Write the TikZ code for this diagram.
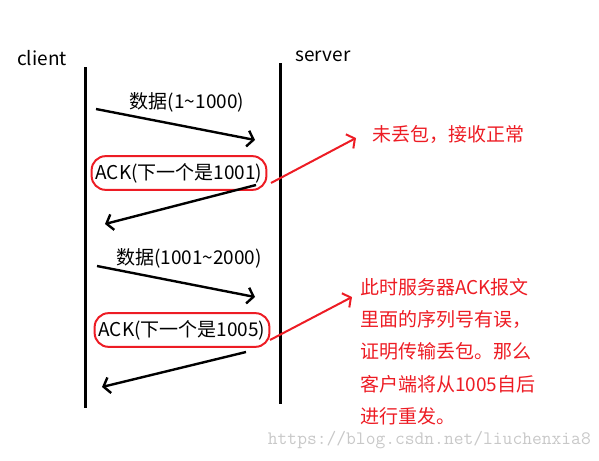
\documentclass[tikz,border=0pt]{standalone}
\usepackage{fontspec}
\setmainfont{Noto Sans CJK SC}
\usetikzlibrary{arrows.meta}
\definecolor{annred}{RGB}{237,28,36}
\definecolor{wmgray}{RGB}{200,200,200}
\tikzset{
  lifeline/.style={line width=3pt},
  msg/.style={line width=2.4pt,-{Straight Barb[length=6pt,width=16pt,line width=2.4pt]}},
  lbl/.style={inner sep=0pt,font=\fontsize{19}{22}\selectfont},
  ackbox/.style={draw=annred,line width=2pt,rounded corners=14pt,inner xsep=4pt,inner ysep=7pt,font=\fontsize{19}{22}\selectfont},
  note/.style={inner sep=0pt,text=annred,font=\fontsize{19}{32.3}\selectfont,align=left},
  notearrow/.style={draw=annred,line width=2pt,-{Straight Barb[length=6pt,width=16pt,line width=2pt]}}
}
\begin{document}
\begin{tikzpicture}[x=1pt,y=-1pt]
\useasboundingbox (0,0) rectangle (599,460);
% headers
\node[lbl] (client) at (42,58) {client};
\node[lbl] (server) at (323,56) {server};
% lifelines
\coordinate (ctop) at (85,67);
\coordinate (cbot) at (85,408);
\coordinate (stop) at (280,63);
\coordinate (sbot) at (280,404);
\draw[lifeline] (ctop) -- (cbot);
\draw[lifeline] (stop) -- (sbot);
% message 1
\coordinate (m1a) at (96,109);
\coordinate (m1b) at (255,140);
\draw[msg] (m1a) -- (m1b);
\node[lbl] (l1) at (187,102) {数据(1\char"007E 1000)};
% ack 1
\node[ackbox] (ack1) at (179,173) {ACK(下一个是1001)};
\coordinate (m2a) at (256,185);
\coordinate (m2b) at (105,224);
\draw[msg] (m2a) -- (m2b);
% note 1
\node[note,anchor=west] (n1) at (372,134) {未丢包，接收正常};
\coordinate (r1a) at (271,183);
\coordinate (r1b) at (356,138);
\draw[notearrow] (r1a) -- (r1b);
% message 3
\coordinate (m3a) at (97,266);
\coordinate (m3b) at (255,297);
\draw[msg] (m3a) -- (m3b);
\node[lbl] (l3) at (189,258) {数据(1001\char"007E 2000)};
% ack 2
\node[ackbox] (ack2) at (182,330) {ACK(下一个是1005)};
\coordinate (m4a) at (246,352);
\coordinate (m4b) at (102,387);
\draw[msg] (m4a) -- (m4b);
% note 2
\node[note,anchor=north west] (n2) at (360,278) {此时服务器ACK报文\\里面的序列号有误，\\证明传输丢包。那么\\客户端将从1005自后\\进行重发。};
\coordinate (r2a) at (270,340);
\coordinate (r2b) at (352,297);
\draw[notearrow] (r2a) -- (r2b);
% watermark
\node[inner sep=0pt,text=wmgray,font=\ttfamily\fontsize{19}{21}\selectfont,anchor=east] (wm) at (591,440) {https://blog.csdn.net/liuchenxia8};
\end{tikzpicture}
\end{document}
